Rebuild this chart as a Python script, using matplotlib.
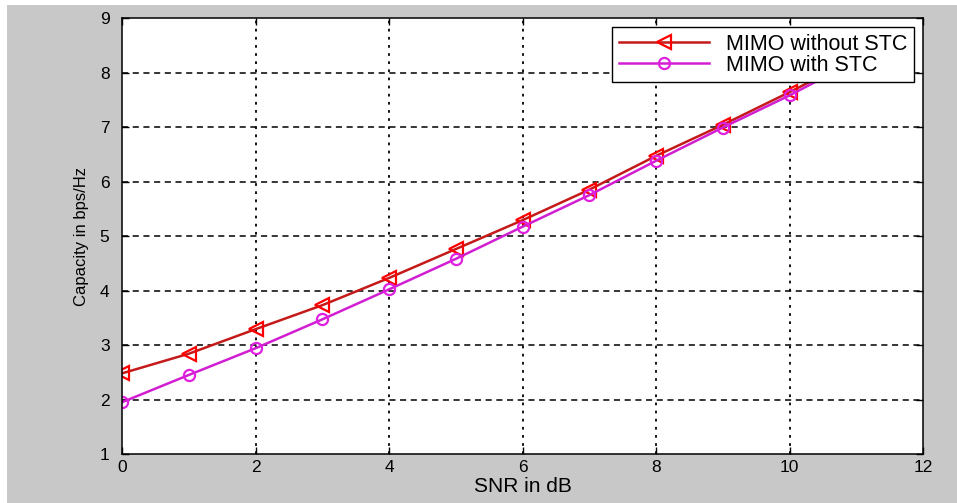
import matplotlib.pyplot as plt
from matplotlib.patches import Rectangle

# SNR values and capacities
snr_db = [0, 1, 2, 3, 4, 5, 6, 7, 8, 9, 10, 11]
cap_without_stc = [2.48, 2.84, 3.29, 3.73, 4.23, 4.76, 5.29, 5.85, 6.47, 7.04, 7.64, 8.26]
cap_with_stc = [1.95, 2.45, 2.94, 3.47, 4.02, 4.58, 5.17, 5.75, 6.38, 6.99, 7.58, 8.22]

x_ticks = [0, 2, 4, 6, 8, 10, 12]
y_ticks = [1, 2, 3, 4, 5, 6, 7, 8, 9]

plt.rcParams['font.family'] = ['Liberation Sans', 'DejaVu Sans']

fig = plt.figure(figsize=(9.57, 5.03), dpi=100, facecolor='white')
# gray MATLAB-like figure background with a thin white border top/left
fig.patches.append(Rectangle((7 / 957, 0), 1, 1 - 5 / 503, transform=fig.transFigure,
                             facecolor='#c8c8c8', edgecolor='none', zorder=-10))

ax = fig.add_axes([0.1275, 0.0974, 0.8370, 0.8668])
ax.set_facecolor('white')

ax.plot(snr_db, cap_without_stc, color='#c41a1a', linewidth=1.8, marker='<',
        markersize=10, markerfacecolor='none', markeredgecolor='red',
        markeredgewidth=1.6, label='MIMO without STC')
ax.plot(snr_db, cap_with_stc, color='#d21ed2', linewidth=1.8, marker='o',
        markersize=8, markerfacecolor='none', markeredgecolor='#e020e0',
        markeredgewidth=1.6, label='MIMO with STC')

ax.set_xlim(0, 12)
ax.set_ylim(1, 9)
ax.set_xticks(x_ticks)
ax.set_yticks(y_ticks)

# grid: dashed horizontals, dotted verticals
for y in y_ticks[1:-1]:
    ax.axhline(y, color='black', linewidth=1.1, linestyle=(0, (4, 3)), zorder=0.5)
for x in x_ticks[1:-1]:
    ax.axvline(x, color='black', linewidth=1.3, linestyle=(0, (1.5, 3)), zorder=0.5)

ax.tick_params(direction='in', top=True, right=True, length=5, width=1,
               labelsize=12.5, colors='black')
ax.tick_params(axis='x', pad=4.5)
ax.tick_params(axis='y', pad=9)
for s in ax.spines.values():
    s.set_linewidth(1.1)

ax.set_xlabel('SNR in dB', fontsize=15, labelpad=1)
ax.set_ylabel('Capacity in bps/Hz', fontsize=12, labelpad=8)

leg = ax.legend(loc='upper right', bbox_to_anchor=(0.9888, 0.979), fontsize=15.5,
                frameon=True, fancybox=False, framealpha=1, edgecolor='black',
                handlelength=4.2, borderpad=0.3, labelspacing=0.0, handletextpad=0.8,
                borderaxespad=0)
leg.get_frame().set_linewidth(1.0)

fig.savefig('out.png', dpi=100, facecolor=fig.get_facecolor())
